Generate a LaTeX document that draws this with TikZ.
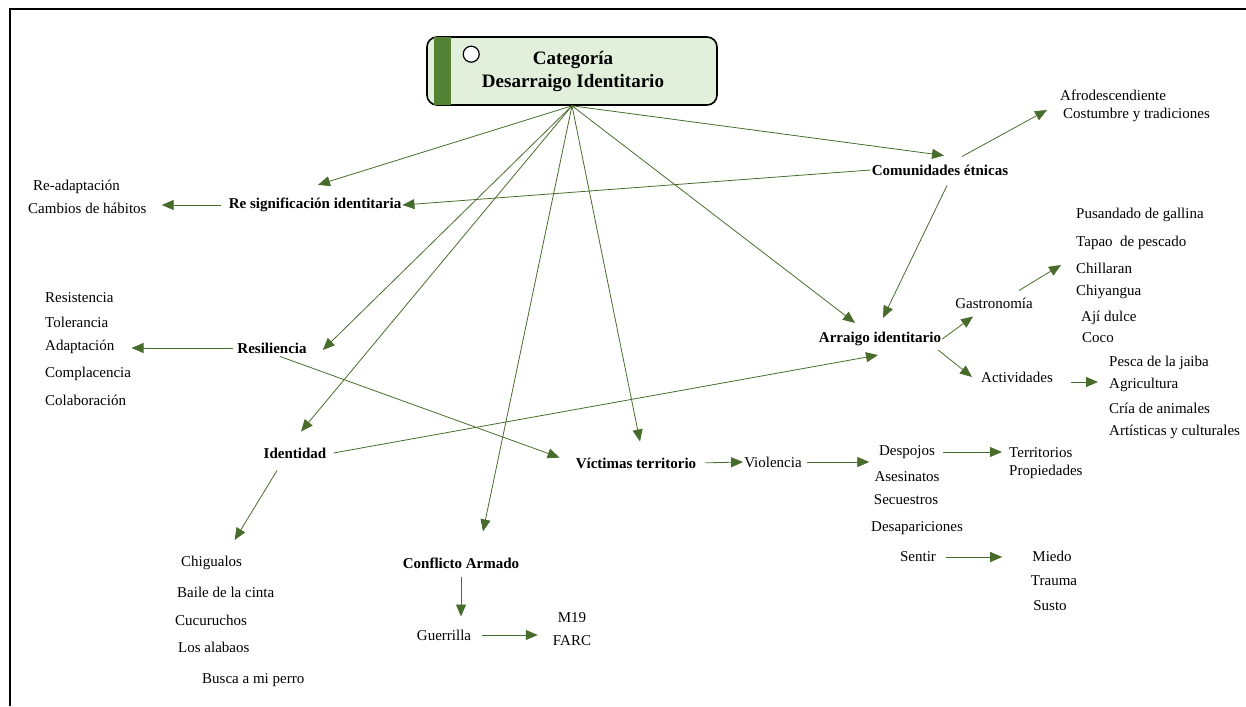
\documentclass[tikz,border=0pt]{standalone}
\usepackage{fontspec}
\setmainfont{Liberation Serif}
\usetikzlibrary{arrows.meta,calc}
\definecolor{leafgreen}{RGB}{84,130,53}
\definecolor{palegreen}{RGB}{226,239,218}
\definecolor{linkgreen}{RGB}{72,108,44}
\tikzset{
    term/.style={inner sep=1pt, font=\fontsize{15}{17}\selectfont},
    topic/.style={inner sep=1pt, font=\fontsize{15}{17}\selectfont\bfseries},
    catbox/.style={draw, line width=1.6pt, rounded corners=10pt, fill=palegreen, minimum width=290pt, minimum height=68pt, align=center, font=\fontsize{19}{23}\selectfont\bfseries},
    link/.style={draw=linkgreen, line width=0.8pt, -{Triangle[length=12pt,width=10pt]}}
}

\begin{document}
\begin{tikzpicture}[x=1pt,y=-1pt]
    \useasboundingbox (0,0) rectangle (1246,706);
    \draw[line width=2pt] (10,706) -- (10,9) -- (1246,9);

    \node[catbox] (cat) at (572,71) {\hspace*{2pt}Categoría\\\hspace*{2pt}Desarraigo Identitario};
    \fill[leafgreen] ($(cat.north west)+(8,1)$) rectangle ($(cat.south west)+(25,-1)$);
    \draw[line width=1.2pt, fill=white] ($(cat.north west)+(45,18)$) circle (8);

    \node[topic] (resig) at (315,205) {Re significación identitaria};
    \node[term, anchor=west] (readapt) at (32,187) {Re-adaptación};
    \node[term, anchor=west] (cambios) at (27,208) {Cambios de hábitos};
    \node[topic] (comun) at (940,170) {Comunidades étnicas};
    \node[term, anchor=west] (afro) at (1059,95) {Afrodescendiente};
    \node[term, anchor=west] (costum) at (1062,115) {Costumbre y tradiciones};

    \node[topic] (resil) at (272,348) {Resiliencia};
    \node[term, anchor=west] (resist) at (44,298) {Resistencia};
    \node[term, anchor=west] (toler) at (44,322) {Tolerancia};
    \node[term, anchor=west] (adapt) at (44,347) {Adaptación};
    \node[term, anchor=west] (complac) at (44,374) {Complacencia};
    \node[term, anchor=west] (colab) at (44,400) {Colaboración};

    \node[topic] (ident) at (295,453) {Identidad};
    \node[term, anchor=west] (chig) at (180,563) {Chigualos};
    \node[term, anchor=west] (baile) at (176,592) {Baile de la cinta};
    \node[term, anchor=west] (cucu) at (174,620) {Cucuruchos};
    \node[term, anchor=west] (alabaos) at (177,647) {Los alabaos};
    \node[term, anchor=west] (busca) at (201,680) {Busca a mi perro};

    \node[topic] (conf) at (461,563) {Conflicto Armado};
    \node[term] (guerr) at (444,635) {Guerrilla};
    \node[term] (mdiez) at (572,618) {M19};
    \node[term] (farc) at (572,641) {FARC};

    \node[topic] (vict) at (636,463) {Víctimas territorio};
    \node[term] (viol) at (773,462) {Violencia};
    \node[term] (desp) at (907,452) {Despojos};
    \node[term] (asesin) at (907,477) {Asesinatos};
    \node[term] (secu) at (906,500) {Secuestros};
    \node[term] (desap) at (917,528) {Desapariciones};
    \node[term] (sentir) at (918,557) {Sentir};
    \node[term, anchor=west] (territ) at (1008,453) {Territorios};
    \node[term, anchor=west] (propi) at (1008,472) {Propiedades};
    \node[term] (miedo) at (1052,556) {Miedo};
    \node[term] (trauma) at (1054,581) {Trauma};
    \node[term] (susto) at (1050,606) {Susto};

    \node[topic] (arraigo) at (880,339) {Arraigo identitario};
    \node[term] (gastro) at (994,303) {Gastronomía};
    \node[term] (activ) at (1017,377) {Actividades};
    \node[term, anchor=west] (pusan) at (1075,215) {Pusandado de gallina};
    \node[term, anchor=west] (tapao) at (1075,243) {Tapao\ \ de pescado};
    \node[term, anchor=west] (chill) at (1075,268) {Chillaran};
    \node[term, anchor=west] (chiya) at (1075,292) {Chiyangua};
    \node[term, anchor=west] (aji) at (1080,318) {Ají dulce};
    \node[term, anchor=west] (coco) at (1081,338) {Coco};
    \node[term, anchor=west] (pesca) at (1108,363) {Pesca de la jaiba};
    \node[term, anchor=west] (agric) at (1108,385) {Agricultura};
    \node[term, anchor=west] (cria) at (1108,408) {Cría de animales};
    \node[term, anchor=west] (artis) at (1108,432) {Artísticas y culturales};

    % from the category
    \draw[link] (cat.south) -- ($(resig.north)+(3,-12)$);
    \draw[link] (cat.south) -- ($(comun.north)+(4,-8)$);
    \draw[link] (cat.south) -- ($(resil.east)+(15,2)$);
    \draw[link] (cat.south) -- ($(ident.north)+(6,-15)$);
    \draw[link] (cat.south) -- ($(conf.north)+(22,-25)$);
    \draw[link] (cat.south) -- ($(vict.north)+(4,-15)$);
    \draw[link] (cat.south) -- ($(arraigo.north)+(-25,-8)$);

    \draw[link] (comun.west) -- (resig.east);
    \draw[link, shorten <=7pt, shorten >=14pt] (resig.west) -- (resig.west -| cambios.east);
    \draw[link] ($(comun.north)+(22,-7)$) -- ($(costum.west)+(-15,-5)$);
    \draw[link] ($(comun.south)+(7,9)$) -- ($(arraigo.north)+(3,-13)$);

    \draw[link, shorten <=3pt, shorten >=16pt] (resil.west) -- (resil.west -| adapt.east);
    \draw[link, shorten >=16pt] ($(resil.south)+(8,2)$) -- (vict.west);

    \draw[link] ($(ident.east)+(6,0)$) -- ($(arraigo.south)+(-2,8)$);
    \draw[link] ($(ident.south)+(-18,11)$) -- ($(chig.north)+(23,-15)$);

    \draw[link, shorten <=7pt, shorten >=12pt] (conf.south) -- (conf.south |- guerr.north);
    \draw[link, shorten <=10pt, shorten >=14pt] (guerr.east) -- (guerr.east -| farc.west);

    \draw[link, shorten <=8pt] (vict.east) -- (viol.west);
    \draw[link, shorten <=4pt, shorten >=4pt] (viol.east) -- (viol.east -| asesin.west);
    \draw[link, shorten <=7pt, shorten >=6pt] (desp.east) -- (desp.east -| territ.west);
    \draw[link, shorten <=9pt, shorten >=29pt] (sentir.east) -- (sentir.east -| miedo.west);

    \draw[link] (arraigo.east) -- ($(gastro.south west)+(19,7)$);
    \draw[link] ($(arraigo.south east)+(-4,3)$) -- ($(activ.west)+(-8,0)$);
    \draw[link] ($(gastro.north east)+(-15,-6)$) -- ($(chill.west)+(-14,-3)$);
    \draw[link] ($(activ.east)+(17,5)$) -- ($(agric.west)+(-10,-3)$);
\end{tikzpicture}
\end{document}
